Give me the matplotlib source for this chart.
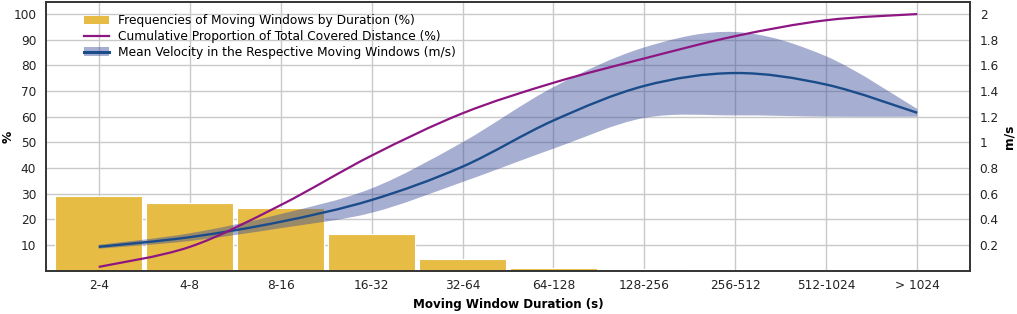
import matplotlib

matplotlib.use("Agg")
import matplotlib.pyplot as plt
import numpy as np
from matplotlib.lines import Line2D
from matplotlib.patches import Patch, PathPatch
from matplotlib.path import Path

# moving window duration classes
categories = ["2-4", "4-8", "8-16", "16-32", "32-64", "64-128",
              "128-256", "256-512", "512-1024", "> 1024"]
# frequencies of moving windows by duration (%)
frequency_pct = [29.1, 26.4, 24.2, 14.4, 4.4, 1.1, 0.4, 0.25, 0.08, 0.03]
# cumulative proportion of total covered distance (%)
cumulative_pct = [1.4, 9.2, 25.5, 44.8, 61.3, 73.2, 82.7, 91.4, 97.6, 100.0]
# mean velocity (m/s) with its band
velocity_mean = [0.185, 0.26, 0.38, 0.55, 0.81, 1.17, 1.44, 1.54, 1.45, 1.23]
velocity_upper = [0.20, 0.29, 0.44, 0.64, 1.00, 1.43, 1.74, 1.86, 1.67, 1.26]
velocity_lower = [0.17, 0.23, 0.33, 0.45, 0.69, 0.95, 1.19, 1.21, 1.20, 1.20]

YELLOW = "#E6BC45"
PURPLE = "#8E1683"
BLUE = "#1B4C8A"
BAND = "#3A4C99"
FONT = "DejaVu Sans"


def smooth_codes(xs, ys):
    """Catmull-Rom points -> cubic Bezier vertices/codes for a smooth line."""
    pts = np.column_stack([xs, ys]).astype(float)
    ext = np.vstack([pts[0], pts, pts[-1]])
    verts = [pts[0]]
    codes = [Path.MOVETO]
    for i in range(len(pts) - 1):
        p0, p1, p2, p3 = ext[i], ext[i + 1], ext[i + 2], ext[i + 3]
        verts += [p1 + (p2 - p0) / 6, p2 - (p3 - p1) / 6, p2]
        codes += [Path.CURVE4] * 3
    return verts, codes


x = np.arange(len(categories))

fig = plt.figure(figsize=(10.17, 3.14), dpi=100)
ax = fig.add_axes([0.0452, 0.1385, 0.9086, 0.8551])
ax2 = ax.twinx()

ax.bar(x, frequency_pct, width=0.96, color=YELLOW, edgecolor="white",
       linewidth=0.8, zorder=2)

# velocity band (upper forward, lower backward)
uv, uc = smooth_codes(x, velocity_upper)
lv, lc = smooth_codes(x[::-1], velocity_lower[::-1])
lc[0] = Path.LINETO
band_path = Path(uv + lv + [uv[0]], uc + lc + [Path.CLOSEPOLY])
ax2.add_patch(PathPatch(band_path, facecolor=BAND, edgecolor="none",
                        alpha=0.45, zorder=3))

mv, mc = smooth_codes(x, velocity_mean)
ax2.add_patch(PathPatch(Path(mv, mc), facecolor="none", edgecolor=BLUE,
                        linewidth=1.7, zorder=4))

cv, cc = smooth_codes(x, cumulative_pct)
ax2.add_patch(PathPatch(Path(cv, cc), facecolor="none", edgecolor=PURPLE,
                        linewidth=1.6, zorder=5, transform=ax.transData))

ax.set_xlim(-0.58, 9.58)
ax.set_ylim(0, 104.7)
ax2.set_ylim(0, 2.094)

ax.set_xticks(x)
ax.set_xticklabels(categories)
ax.set_yticks(np.arange(10, 101, 10))
ax2.set_yticks([0.2, 0.4, 0.6, 0.8, 1, 1.2, 1.4, 1.6, 1.8, 2])
ax2.set_yticklabels(["0.2", "0.4", "0.6", "0.8", "1", "1.2", "1.4", "1.6", "1.8", "2"])

ax.grid(True, color="#c9c9c9", linewidth=1.0)
ax.set_axisbelow(True)

for a in (ax, ax2):
    a.tick_params(axis="y", length=0, labelsize=8.7, colors="#222222", pad=7)
    a.tick_params(axis="x", length=0, labelsize=8.7, colors="#222222", pad=6)
    for lbl in a.get_xticklabels() + a.get_yticklabels():
        lbl.set_family(FONT)
    for sp in a.spines.values():
        sp.set_color("#333333")
        sp.set_linewidth(1.2)

ax.set_xlabel("Moving Window Duration (s)", fontsize=8.6, fontweight="bold",
              family=FONT)
ax.set_ylabel("%", fontsize=8.8, fontweight="bold", family=FONT)
ax2.set_ylabel("m/s", fontsize=8.8, fontweight="bold", family=FONT)
ax.xaxis.set_label_coords(0.5, -0.128)
ax.yaxis.set_label_coords(-0.041, 0.497)
ax2.yaxis.set_label_coords(1.042, 0.497)
ax.xaxis.label.set_va("center")
ax.yaxis.label.set_va("center")
ax2.yaxis.label.set_va("center")

handles = [
    Patch(facecolor=YELLOW),
    Line2D([], [], color=PURPLE, linewidth=1.6),
    (Patch(facecolor=BAND, alpha=0.45),
     Line2D([], [], color=BLUE, linewidth=2.2)),
]
labels = [
    "Frequencies of Moving Windows by Duration (%)",
    "Cumulative Proportion of Total Covered Distance (%)",
    "Mean Velocity in the Respective Moving Windows (m/s)",
]
ax2.legend(handles, labels, loc="upper left", bbox_to_anchor=(0.036, 0.972),
           frameon=False, prop={"family": FONT, "size": 8.8},
           handlelength=2.0, handleheight=0.7, handletextpad=0.8,
           labelspacing=0.22, borderaxespad=0)

fig.savefig("out.png", dpi=100)
